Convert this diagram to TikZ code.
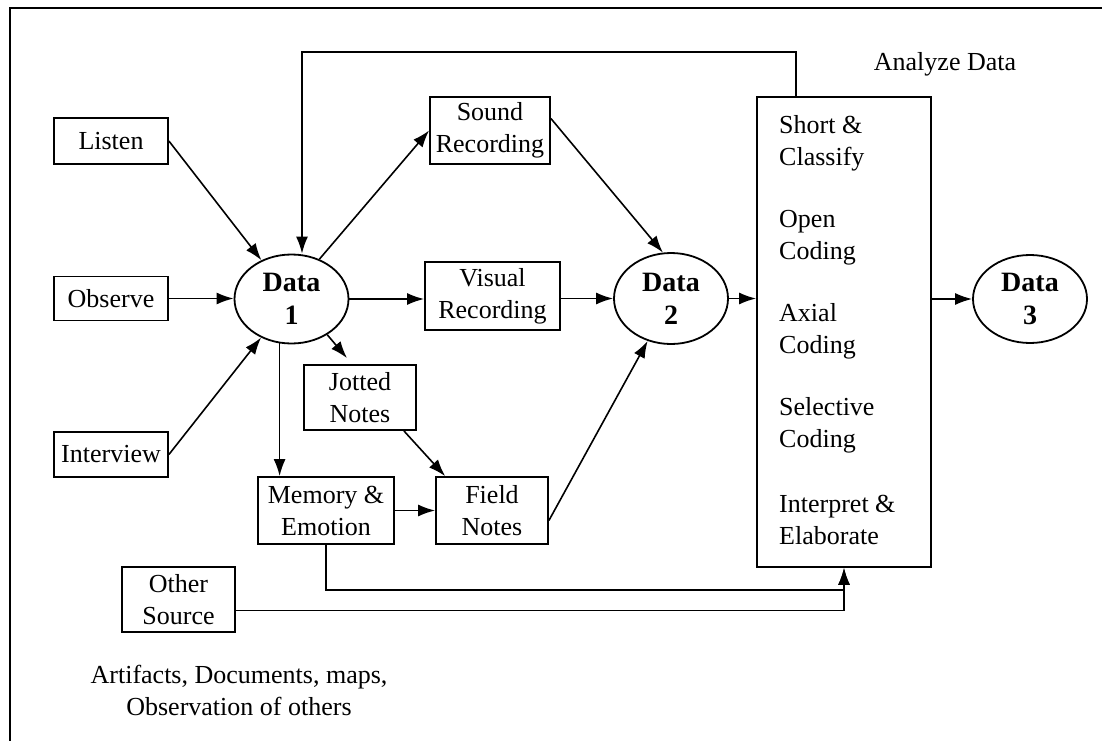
\documentclass[tikz,border=0pt]{standalone}
\usepackage{fontspec}
\setmainfont{Liberation Serif}
\usetikzlibrary{shapes.geometric, arrows.meta, positioning, calc}

\begin{document}
\begin{tikzpicture}[x=1pt, y=-1pt,
              font=\fontsize{26}{32}\selectfont,
              box/.style={draw, line width=1.8pt, align=center, inner sep=2pt},
              datum/.style={draw, ellipse, line width=1.8pt, align=center, inner sep=0pt, minimum width=114pt, minimum height=89pt, font=\bfseries\fontsize{28}{33}\selectfont},
              phasetext/.style={align=left, inner sep=0pt, anchor=west},
              arr/.style={-{Latex[length=17pt, width=12pt]}, line width=1.6pt}
            ]
              \useasboundingbox (0,0) rectangle (1102,741);
              % page frame
              \draw[line width=2.4pt] (1102,8) -- (10,8) -- (10,741);

              \node[box, minimum width=114pt, minimum height=46pt] (listen) at (111,141) {Listen};
              \node[box, minimum width=114pt, minimum height=44pt] (observe) at (111,298.5) {Observe};
              \node[box, minimum width=114pt, minimum height=45pt] (interview) at (111,454.5) {Interview};
              \node[datum] (data1) at (291.5,299) {Data\\1};
              \node[box, minimum width=120pt, minimum height=67pt] (sound) at (490,130.5) {Sound\\Recording};
              \node[box, minimum width=135pt, minimum height=68pt] (visual) at (492.5,296) {Visual\\Recording};
              \node[box, minimum width=112pt, minimum height=65pt] (jotted) at (360,397.5) {Jotted\\Notes};
              \node[box, minimum width=136pt, minimum height=67pt] (memory) at (326,510.5) {Memory \&\\Emotion};
              \node[box, minimum width=112pt, minimum height=67pt] (field) at (492,510.5) {Field\\Notes};
              \node[box, minimum width=113pt, minimum height=65pt] (other) at (178.5,599.5) {Other\\Source};
              \node[datum, minimum height=91pt] (data2) at (671,298.5) {Data\\2};
              \node[draw, line width=1.8pt, minimum width=174pt, minimum height=470pt] (analyze) at (844,332) {};
              \node[datum, minimum height=88pt] (data3) at (1030,299) {Data\\3};

              \node (analyzelabel) at (945,64) {Analyze Data};
              \node[align=center] (artifacts) at (239,690) {Artifacts, Documents, maps,\\Observation of others};

              \foreach \phase [count=\k from 0] in {{Short \&\\Classify},{Open\\Coding},{Axial\\Coding},{Selective\\Coding},{Interpret \&\\Elaborate}}
                \node[phasetext] (phase\k) at (779,143+94.25*\k) {\phase};

              \coordinate (fbcorner) at (302,52);

              \draw[arr] (listen.east) -- (data1);
              \draw[arr] (observe.east) -- (observe.east -| data1.west);
              \draw[arr] (interview.east) -- (data1);
              \draw[arr] (data1.55) -- (sound.west);
              \draw[arr] (data1.east) -- (data1.east -| visual.west);
              \draw[arr] (data1.-45) -- ($(jotted.north)+(-13,-6)$);
              \draw[arr] (data1.-105) -- (data1.-105 |- memory.north);
              \draw[arr] ([xshift=-13pt]jotted.south east) -- ([xshift=10pt]field.north west);
              \draw[arr] (memory.east) -- (field.west);
              \draw[arr] ([yshift=12pt]sound.east) -- (data2.100);
              \draw[arr] (data2.west -| visual.east) -- (data2.west);
              \draw[arr] ([yshift=-10pt]field.east) -- (data2);
              \draw[arr] (data2.east) -- (data2.east -| analyze.west);
              \draw[arr] (data3.west -| analyze.east) -- (data3.west);
              \draw[arr] ([xshift=-48pt]analyze.north) |- (fbcorner) -- (fbcorner |- data1.north);
              \draw[arr] (memory.south) |- ([yshift=-22pt]analyze.south) -- (analyze.south);
              \draw[arr] ([yshift=-11pt]other.east) -| (analyze.south);
            \end{tikzpicture}
\end{document}
